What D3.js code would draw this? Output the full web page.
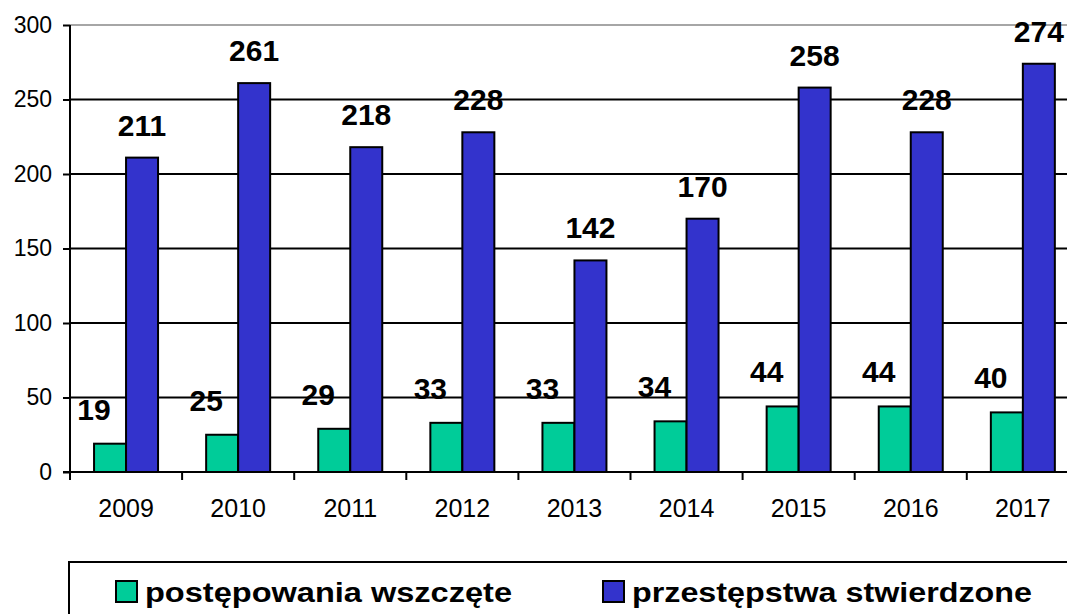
<!DOCTYPE html>
<html>
<head>
<meta charset="utf-8">
<script src="https://cdn.jsdelivr.net/npm/d3@7"></script>
<style>
  body { margin: 0; background: #fff; }
  svg { display: block; font-family: "Liberation Sans", Arial, sans-serif; }
</style>
</head>
<body>
<div id="chart"></div>
<script>
const years = ["2009", "2010", "2011", "2012", "2013", "2014", "2015", "2016", "2017"];
const wszczete = [19, 25, 29, 33, 33, 34, 44, 44, 40];
const stwierdzone = [211, 261, 218, 228, 142, 170, 258, 228, 274];
const seriesNames = ["postępowania wszczęte", "przestępstwa stwierdzone"];
const seriesColors = ["#00CC99", "#3333CC"];
const yTicks = [0, 50, 100, 150, 200, 250, 300];

const width = 1067, height = 614;
const plotLeft = 70, plotTop = 25, plotBottom = 472;
const band = 112.1;

const svg = d3.select("#chart")
    .append("svg")
    .attr("width", width)
    .attr("height", height);

const x = d3.scaleBand()
    .domain(years)
    .range([plotLeft, plotLeft + band * years.length]);

const sub = d3.scaleBand()
    .domain([0, 1])
    .range([x.bandwidth() / 2 - 32, x.bandwidth() / 2 + 32]);

const y = d3.scaleLinear()
    .domain([0, 300])
    .range([plotBottom, plotTop]);

// gridlines
svg.append("g")
    .selectAll("line")
    .data(yTicks.filter(t => t > 0))
    .enter()
    .append("line")
    .attr("x1", plotLeft)
    .attr("x2", width)
    .attr("y1", d => y(d))
    .attr("y2", d => y(d))
    .attr("stroke", d => d == 300 ? "#a6a6a6" : "#000")
    .attr("stroke-width", 2);

// y axis
const yAxis = svg.append("g")
    .attr("transform", "translate(" + plotLeft + ",0)")
    .call(d3.axisLeft(y).tickValues(yTicks).tickSize(7).tickPadding(11));
yAxis.select(".domain").attr("stroke-width", 2).attr("d", "M0," + y(300) + "V" + y(0));
yAxis.selectAll(".tick line").attr("stroke-width", 2);
yAxis.selectAll("text")
    .style("font-size", "23px")
    .attr("fill", "#000");

// x axis
const xAxis = svg.append("g")
    .attr("transform", "translate(0," + plotBottom + ")")
    .call(d3.axisBottom(x).tickSize(0).tickPadding(27));
xAxis.select(".domain").remove();
xAxis.selectAll("text")
    .style("font-size", "25px")
    .attr("fill", "#000");
xAxis.selectAll(".sep")
    .data(years)
    .enter()
    .append("line")
    .attr("x1", d => x(d))
    .attr("x2", d => x(d))
    .attr("y1", 0)
    .attr("y2", 8)
    .attr("stroke", "#000")
    .attr("stroke-width", 2);

svg.append("line")
    .attr("x1", plotLeft - 7)
    .attr("x2", width)
    .attr("y1", plotBottom)
    .attr("y2", plotBottom)
    .attr("stroke", "#000")
    .attr("stroke-width", 2);

// green bars
svg.append("g")
    .selectAll("rect")
    .data(wszczete)
    .enter()
    .append("rect")
    .attr("x", (d, i) => x(years[i]) + sub(0))
    .attr("y", d => y(d))
    .attr("width", sub.bandwidth())
    .attr("height", d => y(0) - y(d))
    .attr("fill", seriesColors[0])
    .attr("stroke", "#000")
    .attr("stroke-width", 2);

// green labels (behind blue bars)
svg.append("g")
    .selectAll("text")
    .data(wszczete)
    .enter()
    .append("text")
    .attr("x", (d, i) => x(years[i]) + sub(0))
    .attr("y", d => y(d) - 24)
    .attr("text-anchor", "middle")
    .style("font-size", "30px")
    .style("font-weight", "bold")
    .text(d => d);

// blue bars
svg.append("g")
    .selectAll("rect")
    .data(stwierdzone)
    .enter()
    .append("rect")
    .attr("x", (d, i) => x(years[i]) + sub(1))
    .attr("y", d => y(d))
    .attr("width", sub.bandwidth())
    .attr("height", d => y(0) - y(d))
    .attr("fill", seriesColors[1])
    .attr("stroke", "#000")
    .attr("stroke-width", 2);

svg.append("g")
    .selectAll("text")
    .data(stwierdzone)
    .enter()
    .append("text")
    .attr("x", (d, i) => x(years[i]) + sub(1) + sub.bandwidth() / 2)
    .attr("y", d => y(d) - 22)
    .attr("text-anchor", "middle")
    .style("font-size", "30px")
    .style("font-weight", "bold")
    .text(d => d);

// legend
svg.append("rect")
    .attr("x", 69)
    .attr("y", 562)
    .attr("width", 1010)
    .attr("height", 80)
    .attr("fill", "none")
    .attr("stroke", "#000")
    .attr("stroke-width", 2);

const legendX = [116, 603];
const legendW = [367, 400];
const item = svg.append("g")
    .selectAll("g")
    .data(seriesNames)
    .enter()
    .append("g")
    .attr("transform", (d, i) => "translate(" + legendX[i] + ",581)");

item.append("rect")
    .attr("width", 21)
    .attr("height", 21)
    .attr("fill", (d, i) => seriesColors[i])
    .attr("stroke", "#000")
    .attr("stroke-width", 2);

item.append("text")
    .attr("x", 29)
    .attr("y", 21)
    .attr("textLength", (d, i) => legendW[i])
    .attr("lengthAdjust", "spacingAndGlyphs")
    .style("font-size", "27px")
    .style("font-weight", "bold")
    .text(d => d);
</script>
</body>
</html>
